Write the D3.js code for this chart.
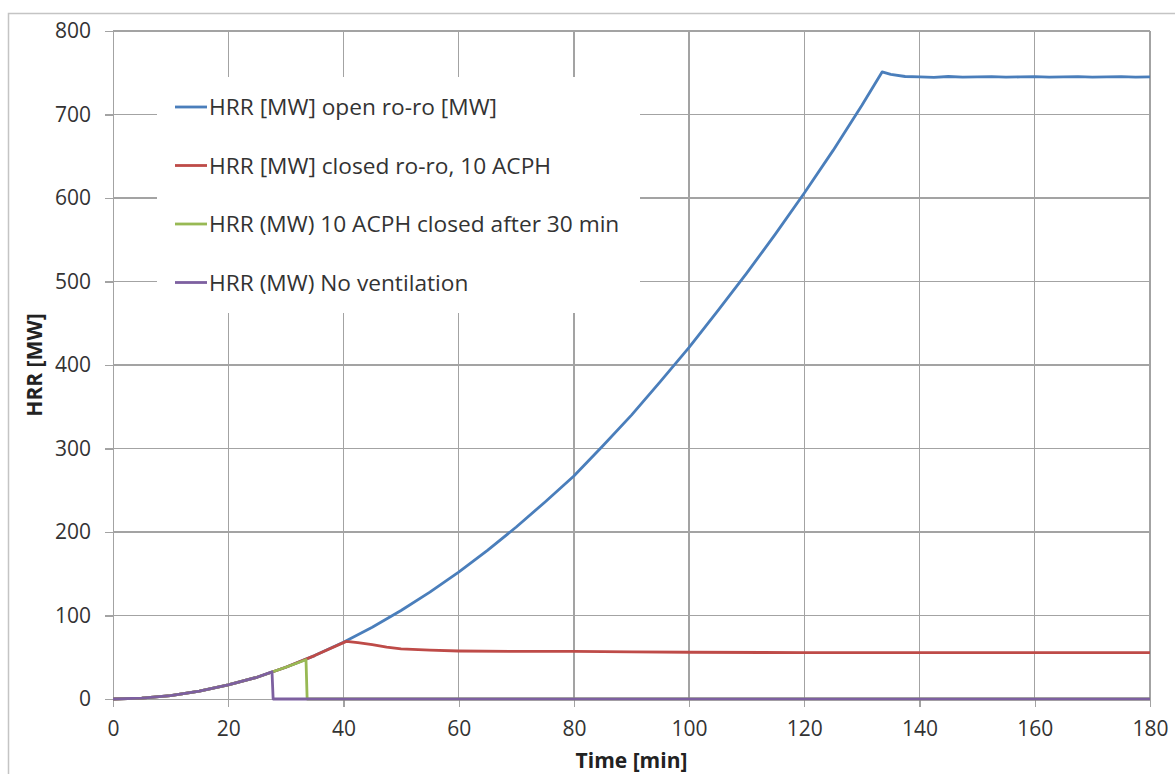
<!DOCTYPE html>
<html>
	<head>
		<script src="https://d3js.org/d3.v7.min.js"></script>
		<style type="text/css">
			body {
				margin: 0;
				background: #fff;
			}
			svg text {
				font-family: "Open Sans", Lato, sans-serif;
			}
			.grid line,
			.axis line,
			.axis path {
				stroke: #a3a3a3;
				stroke-width: 1.3;
				shape-rendering: crispEdges;
			}
			.axis text {
				font-size: 21px;
				fill: #333;
			}
			.series {
				fill: none;
				stroke-width: 2.8;
				stroke-linejoin: round;
			}
			.title {
				font-size: 21px;
				font-weight: bold;
				fill: #222;
			}
			.legend text {
				font-size: 22.7px;
				fill: #333;
			}
		</style>
	</head>
	<body>
		<script type="text/javascript">
			// tick values
			var xTicks = [0, 20, 40, 60, 80, 100, 120, 140, 160, 180];
			var yTicks = [0, 100, 200, 300, 400, 500, 600, 700, 800];

			// series (time in min, HRR in MW)
			var openTime = [0, 5, 10, 15, 20, 25, 30, 35, 40, 45, 50, 55, 60, 65, 70, 75, 80, 85, 90, 95, 100, 105, 110, 115, 120, 125, 130, 133.5, 135, 137.5, 140, 142.5, 145, 147.5, 150, 152.5, 155, 157.5, 160, 162.5, 165, 167.5, 170, 172.5, 175, 177.5, 180];
			var openHRR = [0, 1, 4, 9.5, 17, 26, 38, 52, 68, 86, 106, 128, 152, 178, 206, 236, 267, 303, 340, 380, 421, 465, 510, 557, 606, 657, 711, 751, 748, 745.5, 745, 744.5, 745.5, 744.8, 745, 745.4, 744.7, 745, 745.4, 744.8, 745, 745.4, 744.7, 745, 745.4, 744.8, 745];

			var closedTime = [0, 5, 10, 15, 20, 25, 30, 35, 40.5, 42.5, 45, 47.5, 50, 55, 60, 70, 80, 90, 100, 120, 140, 160, 180];
			var closedHRR = [0, 1, 4, 9.5, 17, 26, 38, 52, 69, 67.5, 65, 62, 60, 58.5, 57.5, 57, 57, 56.5, 56, 55.5, 55.5, 55.5, 55.5];

			var after30Time = [0, 5, 10, 15, 20, 25, 30, 33.5, 33.7, 180];
			var after30HRR = [0, 1, 4, 9.5, 17, 26, 38, 47, 0, 0];

			var noVentTime = [0, 5, 10, 15, 20, 25, 27.6, 27.8, 180];
			var noVentHRR = [0, 1, 4, 9.5, 17, 26, 32.5, 0, 0];

			var seriesNames = ["HRR [MW] open ro-ro [MW]", "HRR [MW] closed ro-ro, 10 ACPH", "HRR (MW) 10 ACPH closed after 30 min", "HRR (MW) No ventilation"];
			var seriesColors = ["#4a7ebb", "#be4b48", "#98b954", "#7d60a0"];

			var series = [
				{ name: seriesNames[0], color: seriesColors[0], values: d3.zip(openTime, openHRR) },
				{ name: seriesNames[1], color: seriesColors[1], values: d3.zip(closedTime, closedHRR) },
				{ name: seriesNames[2], color: seriesColors[2], values: d3.zip(after30Time, after30HRR) },
				{ name: seriesNames[3], color: seriesColors[3], values: d3.zip(noVentTime, noVentHRR) }
			];

			var W = 1175, H = 774;
			var padding = { top: 31, right: 25, bottom: 75, left: 113 };
			var w = W - padding.left - padding.right;
			var h = H - padding.top - padding.bottom;

			var svg = d3.select("body").append("svg")
				.attr("width", W)
				.attr("height", H);

			// outer chart border (cut by the picture edge)
			svg.append("rect")
				.attr("x", 8.5)
				.attr("y", 13.5)
				.attr("width", W + 20)
				.attr("height", H + 20)
				.attr("fill", "#fff")
				.attr("stroke", "#c4c4c4")
				.attr("stroke-width", 1.5);

			var g = svg.append("g")
				.attr("transform", "translate(" + padding.left + "," + padding.top + ")");

			var x = d3.scaleLinear().domain([0, 180]).range([0, w]);
			var y = d3.scaleLinear().domain([0, 800]).range([h, 0]);

			// gridlines
			g.append("g").attr("class", "grid")
				.selectAll("line.h").data(yTicks.slice(1)).enter().append("line")
				.attr("x1", 0).attr("x2", w)
				.attr("y1", function (d) { return y(d); })
				.attr("y2", function (d) { return y(d); });
			g.append("g").attr("class", "grid")
				.selectAll("line.v").data(xTicks.slice(1)).enter().append("line")
				.attr("y1", 0).attr("y2", h)
				.attr("x1", function (d) { return x(d); })
				.attr("x2", function (d) { return x(d); });

			// axes
			g.append("g").attr("class", "axis")
				.call(d3.axisLeft(y).tickValues(yTicks).tickSize(8).tickPadding(14).tickSizeOuter(0))
				.attr("font-family", null).attr("font-size", null);
			g.append("g").attr("class", "axis")
				.attr("transform", "translate(0," + h + ")")
				.call(d3.axisBottom(x).tickValues(xTicks).tickSize(8).tickPadding(14).tickSizeOuter(0))
				.attr("font-family", null).attr("font-size", null);

			// axis titles
			svg.append("text")
				.attr("class", "title")
				.attr("text-anchor", "middle")
				.attr("x", padding.left + w / 2)
				.attr("y", 768)
				.text("Time [min]");
			svg.append("text")
				.attr("class", "title")
				.attr("text-anchor", "middle")
				.attr("transform", "translate(42," + (padding.top + h / 2) + ") rotate(-90)")
				.text("HRR [MW]");

			// lines
			var line = d3.line()
				.x(function (d) { return x(d[0]); })
				.y(function (d) { return y(d[1]); });

			g.selectAll(".series")
				.data(series)
				.enter().append("path")
				.attr("class", "series")
				.attr("stroke", function (d) { return d.color; })
				.attr("d", function (d) { return line(d.values); });

			// legend
			var legend = svg.append("g").attr("class", "legend")
				.attr("transform", "translate(157,77)");
			legend.append("rect")
				.attr("width", 483)
				.attr("height", 236)
				.attr("fill", "#fff");
			var item = legend.selectAll(".item")
				.data(series)
				.enter().append("g")
				.attr("class", "item")
				.attr("transform", function (d, i) { return "translate(0," + (30 + i * 58.5) + ")"; });
			item.append("line")
				.attr("x1", 18).attr("x2", 50)
				.attr("stroke", function (d) { return d.color; })
				.attr("stroke-width", 2.8);
			item.append("text")
				.attr("x", 52)
				.attr("dy", "0.36em")
				.text(function (d) { return d.name; });
		</script>
	</body>
</html>
